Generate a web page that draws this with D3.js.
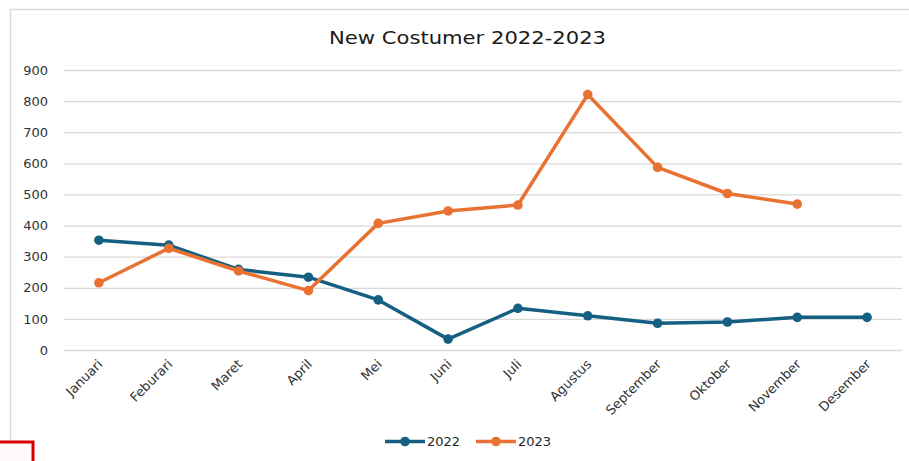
<!DOCTYPE html>
<html>
<head>
<meta charset="utf-8">
<script src="https://cdn.jsdelivr.net/npm/d3@7"></script>
<style>
    html, body { margin: 0; padding: 0; background: #fff; }
    svg { display: block; }
    text { font-family: "DejaVu Sans", sans-serif; fill: #404040; }
</style>
</head>
<body>
<div id="chart"></div>
<script>
const months = ['Januari', 'Feburari', 'Maret', 'April', 'Mei', 'Juni',
                'Juli', 'Agustus', 'September', 'Oktober', 'November', 'Desember'];
const values2022 = [353, 337, 259, 234, 161, 35, 134, 110, 86, 90, 105, 105];
const values2023 = [216, 327, 254, 191, 407, 447, 466, 821, 587, 503, 469];
const yTicks = [0, 100, 200, 300, 400, 500, 600, 700, 800, 900];
const seriesNames = ['2022', '2023'];
const seriesColors = ['#156082', '#E97132'];
const chartTitle = 'New Costumer 2022-2023';

const W = 909, H = 461;
const plot = { left: 64, right: 902, top: 70, bottom: 350 };

const svg = d3.select('#chart').append('svg')
              .attr('width', W)
              .attr('height', H);

// chart frame
svg.append('rect')
    .attr('x', 10.5).attr('y', 9.5)
    .attr('width', 940).attr('height', 480)
    .style('fill', 'none')
    .style('stroke', '#d9d9d9')
    .style('stroke-width', 1.5);

// red selection box bottom-left
svg.append('rect')
    .attr('x', -5).attr('y', 442)
    .attr('width', 38).attr('height', 40)
    .style('fill', '#fffafa')
    .style('stroke', '#d40000')
    .style('stroke-width', 3);

svg.append('text')
    .attr('x', 467.5).attr('y', 43.5)
    .attr('text-anchor', 'middle')
    .attr('textLength', 277)
    .attr('lengthAdjust', 'spacingAndGlyphs')
    .style('font-size', '18px')
    .style('fill', '#1a1a1a')
    .text(chartTitle);

const scaleX = d3.scalePoint()
                 .domain(months)
                 .range([plot.left, plot.right])
                 .padding(0.5);

const scaleY = d3.scaleLinear()
                 .domain([0, 900])
                 .range([plot.bottom, plot.top]);

// y axis + gridlines
const gy = svg.append('g')
    .attr('transform', 'translate(' + plot.left + ', 0)')
    .call(d3.axisLeft(scaleY)
            .tickValues(yTicks)
            .tickSize(-(plot.right - plot.left))
            .tickPadding(16));
gy.select('.domain').remove();
gy.selectAll('line')
    .style('stroke', '#d9d9d9')
    .style('stroke-width', 1.3);
gy.selectAll('text')
    .style('font-size', '13px')
    .style('font-family', '"DejaVu Sans", sans-serif')
    .style('fill', '#333');

// x axis labels
const gx = svg.append('g')
    .attr('transform', 'translate(0, ' + plot.bottom + ')')
    .call(d3.axisBottom(scaleX).tickSize(0).tickPadding(0));
gx.select('.domain').remove();
gx.selectAll('text')
    .attr('y', 0)
    .attr('dy', 0)
    .attr('text-anchor', 'end')
    .attr('transform', 'translate(4, 15) rotate(-45)')
    .style('font-size', '13px')
    .style('font-family', '"DejaVu Sans", sans-serif')
    .style('fill', '#333');

const line = d3.line()
               .x((d, i) => scaleX(months[i]))
               .y(d => scaleY(d));

[values2022, values2023].forEach((vals, k) => {
    svg.append('path')
        .datum(vals)
        .attr('d', line)
        .style('fill', 'none')
        .style('stroke', seriesColors[k])
        .style('stroke-width', 3.5)
        .style('stroke-linejoin', 'round');

    svg.append('g').selectAll('circle')
        .data(vals)
        .enter()
        .append('circle')
            .attr('cx', (d, i) => scaleX(months[i]))
            .attr('cy', d => scaleY(d))
            .attr('r', 4.8)
            .style('fill', seriesColors[k]);
});

// legend
const legendX = [385, 476];
seriesNames.forEach((name, k) => {
    const g = svg.append('g')
        .attr('transform', 'translate(' + legendX[k] + ', 441.5)');
    g.append('line')
        .attr('x1', 0).attr('x2', 40)
        .style('stroke', seriesColors[k])
        .style('stroke-width', 3.5);
    g.append('circle')
        .attr('cx', 20).attr('r', 4.8)
        .style('fill', seriesColors[k]);
    g.append('text')
        .attr('x', 42).attr('dy', '0.36em')
        .style('font-size', '13px')
        .style('fill', '#262626')
        .text(name);
});
</script>
</body>
</html>
